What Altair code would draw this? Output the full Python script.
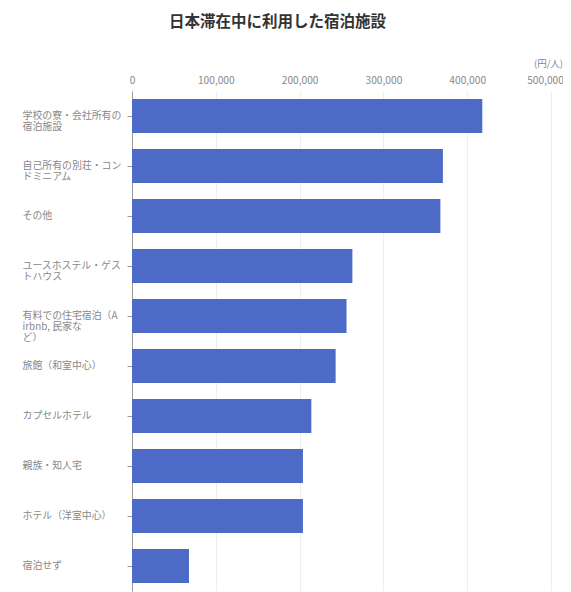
import altair as alt
import pandas as pd

categories = [
    "学校の寮・会社所有の\n宿泊施設",
    "自己所有の別荘・コン\nドミニアム",
    "その他",
    "ユースホステル・ゲス\nトハウス",
    "有料での住宅宿泊（A\nirbnb, 民家な\nど）",
    "旅館（和室中心）",
    "カプセルホテル",
    "親族・知人宅",
    "ホテル（洋室中心）",
    "宿泊せず",
]
values = [418000, 371000, 368000, 263000, 256000, 243000, 214000, 204000, 204000, 68000]
tick_values = [0, 100000, 200000, 300000, 400000, 500000]

df = pd.DataFrame({"cat": categories, "val": values})

FONT = "Noto Sans CJK JP"

chart = alt.Chart(df).mark_bar(color="#4d6bc6").encode(
    x=alt.X(
        "val:Q",
        scale=alt.Scale(domain=[0, 500000], nice=False),
        axis=alt.Axis(
            orient="top",
            values=tick_values,
            format=",.0f",
            title="(円/人)",
            titleX=416,
            titleY=-28,
            titleAlign="center",
            titleBaseline="middle",
            titleFontSize=9.5,
            titleFontWeight="normal",
            titleColor="#888888",
            titleFont=FONT,
            labelFont=FONT,
            labelFontSize=10.2,
            labelColor="#888888",
            labelPadding=6,
            labelOffset={"condition": {"test": "datum.value == 500000", "value": -6}, "value": 0},
            tickSize=0,
            domain=False,
            grid=True,
            gridColor="#eeeeee",
            gridWidth=1,
            labelFlush=False,
        ),
    ),
    y=alt.Y(
        "cat:N",
        sort=categories,
        scale=alt.Scale(paddingInner=0.32, paddingOuter=0.16),
        axis=alt.Axis(
            title=None,
            labelExpr="split(datum.label, '\\n')",
            labelAlign="left",
            labelBaseline="middle",
            labelPadding=105,
            tickSize=5,
            tickColor="#999999",
            domainColor="#999999",
            labelFont=FONT,
            labelFontSize=9.9,
            labelColor="#888888",
            labelLineHeight=11,
            labelLimit=200,
            grid=False,
        ),
    ),
).properties(
    width=419,
    height=500,
    autosize=alt.AutoSizeParams(type="none"),
    padding={"left": 124, "top": 83, "right": 12, "bottom": 1},
    title=alt.TitleParams(
        "日本滞在中に利用した宿泊施設",
        font=FONT,
        fontSize=15.5,
        fontWeight="bold",
        color="#333333",
        anchor="middle",
        dx=-64,
        offset=28,
    ),
).configure_view(stroke=None)

chart.save("out.html", embed_options={"renderer": "svg", "actions": False})
